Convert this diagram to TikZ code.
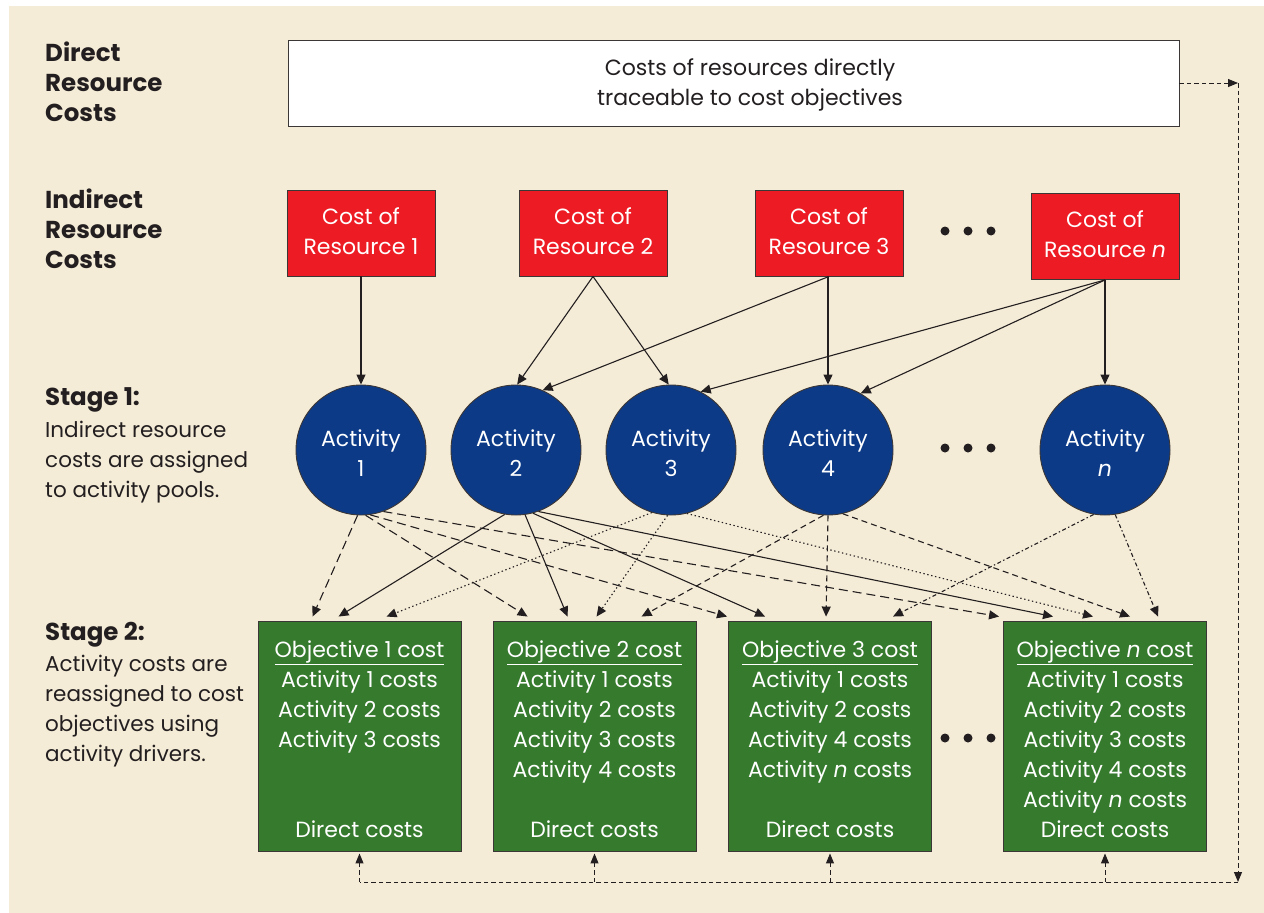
\documentclass[tikz,border=0pt]{standalone}
\usepackage{fontspec}
\setmainfont{Poppins}
\usetikzlibrary{calc,arrows.meta}

\definecolor{cream}{RGB}{245,236,215}
\definecolor{resred}{RGB}{237,28,36}
\definecolor{actblue}{RGB}{12,58,135}
\definecolor{objgreen}{RGB}{54,122,46}
\definecolor{ink}{RGB}{35,31,32}
\definecolor{edge}{RGB}{60,55,55}

% multi-line nodes sit on the baseline of their last line
\tikzset{
  txt/.style={inner sep=0pt, font=\fontsize{22}{30}\selectfont, align=center, anchor=base},
  lbl/.style={inner sep=0pt, font=\fontsize{21.5}{30}\selectfont, align=left, anchor=base west, text=ink},
  hdr/.style={inner sep=0pt, font=\fontsize{24.5}{30}\selectfont\bfseries, align=left, anchor=base west, text=ink},
  whitebox/.style={draw=edge, fill=white, line width=0.9pt, minimum width=891pt, minimum height=86pt, inner sep=0pt},
  resbox/.style={draw=edge, fill=resred, line width=0.9pt, minimum width=148pt, minimum height=86pt, inner sep=0pt},
  actnode/.style={circle, draw=edge, fill=actblue, line width=0.9pt, minimum size=130pt, inner sep=0pt},
  objbox/.style={draw=edge, fill=objgreen, line width=0.9pt, minimum width=203pt, minimum height=230pt, inner sep=0pt},
  arr/.style={draw=ink, line width=1.1pt, -{Triangle[length=10pt,width=9pt]}},
  drvA/.style={arr, dash pattern=on 9pt off 5pt},
  drvB/.style={arr},
  drvC/.style={arr, dash pattern=on 1.4pt off 2.6pt},
  drvD/.style={arr, dash pattern=on 6pt off 4pt},
  drvN/.style={arr, dash pattern=on 4pt off 2.5pt on 1.4pt off 2.5pt},
  fb/.style={draw=ink, line width=1pt, dash pattern=on 4.5pt off 3pt},
  fbarr/.style={fb, -{Triangle[length=10pt,width=8pt]}},
  dot/.style={circle, fill=ink, inner sep=0pt, minimum size=9pt},
}

\begin{document}
\begin{tikzpicture}[x=1pt, y=-1pt]
\useasboundingbox (0,0) rectangle (1264,913);
\fill[white] (0,0) rectangle (1264,913);
\fill[cream] (9,6) rectangle (1264,913);

% left column labels
\node[hdr] (hdrdirect) at (45,121) {Direct\\Resource\\Costs};
\node[hdr] (hdrindirect) at (45,268) {Indirect\\Resource\\Costs};
\node[hdr] (hdrstage1) at (45,405) {Stage 1:};
\node[lbl] (stage1txt) at (45,497) {Indirect resource\\costs are assigned\\to activity pools.};
\node[hdr] (hdrstage2) at (45,640) {Stage 2:};
\node[lbl] (stage2txt) at (45,761) {Activity costs are\\reassigned to cost\\objectives using\\activity drivers.};

% direct resource costs
\node[whitebox] (direct) at (733.5,83) {};
\node[txt, text=ink] (directtxt) at (750,105) {Costs of resources directly\\traceable to cost objectives};

% indirect resources
\node[resbox] (R1) at (361,233) {};
\node[resbox] (R2) at (593,233) {};
\node[resbox] (R3) at (829,233) {};
\node[resbox] (Rn) at (1105,236.5) {};
\node[txt, text=white] (R1t) at (361,254) {Cost of\\Resource 1};
\node[txt, text=white] (R2t) at (593,254) {Cost of\\Resource 2};
\node[txt, text=white] (R3t) at (829,254) {Cost of\\Resource 3};
\node[txt, text=white] (Rnt) at (1105,257) {Cost of\\Resource \textit{n}};
\node[dot] (d1a) at (945,231) {};
\node[dot] (d1b) at (968,231) {};
\node[dot] (d1c) at (991,231) {};

% activity pools
\node[actnode] (A1) at (361,450) {};
\node[actnode] (A2) at (516,450) {};
\node[actnode] (A3) at (671,450) {};
\node[actnode] (A4) at (828,450) {};
\node[actnode] (An) at (1105,450) {};
\node[txt, text=white] (A1t) at (361,476) {Activity\\1};
\node[txt, text=white] (A2t) at (516,476) {Activity\\2};
\node[txt, text=white] (A3t) at (671,476) {Activity\\3};
\node[txt, text=white] (A4t) at (828,476) {Activity\\4};
\node[txt, text=white] (Ant) at (1105,476) {Activity\\\textit{n}};
\node[dot] (d2a) at (945,448) {};
\node[dot] (d2b) at (968,448) {};
\node[dot] (d2c) at (991,448) {};

% cost objectives
\node[objbox] (B1) at (359.5,736) {};
\node[objbox] (B2) at (594.5,736) {};
\node[objbox] (B3) at (830,736) {};
\node[objbox] (Bn) at (1105,736) {};
\node[txt, text=white] (B1t) at (359.5,747) {\underline{Objective 1 cost}\\Activity 1 costs\\Activity 2 costs\\Activity 3 costs};
\node[txt, text=white] (B2t) at (594.5,777) {\underline{Objective 2 cost}\\Activity 1 costs\\Activity 2 costs\\Activity 3 costs\\Activity 4 costs};
\node[txt, text=white] (B3t) at (830,777) {\underline{Objective 3 cost}\\Activity 1 costs\\Activity 2 costs\\Activity 4 costs\\Activity \textit{n} costs};
\node[txt, text=white] (Bnt) at (1105,807) {\underline{Objective \textit{n} cost}\\Activity 1 costs\\Activity 2 costs\\Activity 3 costs\\Activity 4 costs\\Activity \textit{n} costs};
\node[txt, text=white] (B1d) at (359.5,837) {Direct costs};
\node[txt, text=white] (B2d) at (594.5,837) {Direct costs};
\node[txt, text=white] (B3d) at (830,837) {Direct costs};
\node[txt, text=white] (Bnd) at (1105,837) {Direct costs};
\node[dot] (d3a) at (945,738) {};
\node[dot] (d3b) at (968,738) {};
\node[dot] (d3c) at (991,738) {};

% stage 1: resources to activity pools
\draw[arr] (R1.south) -- (A1.north);
\draw[arr] (R2.south) -- (A2.89);
\draw[arr] (R2.south) -- (A3.92);
\draw[arr] (R3.south) -- (A2.66);
\draw[arr] (A4 |- R3.south) -- (A4.north);
\draw[arr] (Rn.south) -- (A3.63);
\draw[arr] (Rn.south) -- (A4.60);
\draw[arr] (Rn.south) -- (An.north);

% stage 2: activity pools to cost objectives
\draw[drvA] (A1.-93) -- ($(B1.north west)+(55,-4)$);
\draw[drvA] (A1.-86) -- ($(B2.north west)+(35,-4)$);
\draw[drvA] (A1.-82) -- ($(B3.north west)+(-1,-4)$);
\draw[drvA] (A1.-70) -- ($(Bn.north west)+(-4,-4)$);

\draw[drvB] (A2.-100) -- ($(B1.north west)+(81,-4)$);
\draw[drvB] (A2.-82) -- ($(B2.north west)+(75,-4)$);
\draw[drvB] (A2.-75) -- ($(B3.north west)+(37,-4)$);
\draw[drvB] (A2.-70) -- ($(Bn.north west)+(50,-4)$);

\draw[drvC] (A3.-107) -- ($(B1.north west)+(129,-4)$);
\draw[drvC] (A3.-93) -- ($(B2.north west)+(104,-4)$);
\draw[drvC] (A3.-76) -- ($(Bn.north west)+(90,-4)$);

\draw[drvD] (A4.-94) -- ($(B2.north west)+(149,-4)$);
\draw[drvD] (A4.south) -- ($(B3.north west)+(98,-4)$);
\draw[drvD] (A4.-77) -- ($(Bn.north west)+(127,-4)$);

\draw[drvN] (An.-100) -- ($(B3.north west)+(165,-4)$);
\draw[drvN] (An.-81) -- ($(Bn.north west)+(155,-4)$);

% direct costs routed to each cost objective
\coordinate (fbtop) at (1238,83);
\coordinate (fbbot) at (1238,882);
\draw[fbarr] (direct.east) -- (fbtop);
\draw[fbarr] (fbtop) -- (fbbot);
\draw[fb] (fbbot) -- (B1.south |- fbbot);
\draw[fbarr, shorten >=2pt] (B1.south |- fbbot) -- (B1.south);
\draw[fbarr, shorten >=2pt] (B2.south |- fbbot) -- (B2.south);
\draw[fbarr, shorten >=2pt] (B3.south |- fbbot) -- (B3.south);
\draw[fbarr, shorten >=2pt] (Bn.south |- fbbot) -- (Bn.south);
\end{tikzpicture}
\end{document}
